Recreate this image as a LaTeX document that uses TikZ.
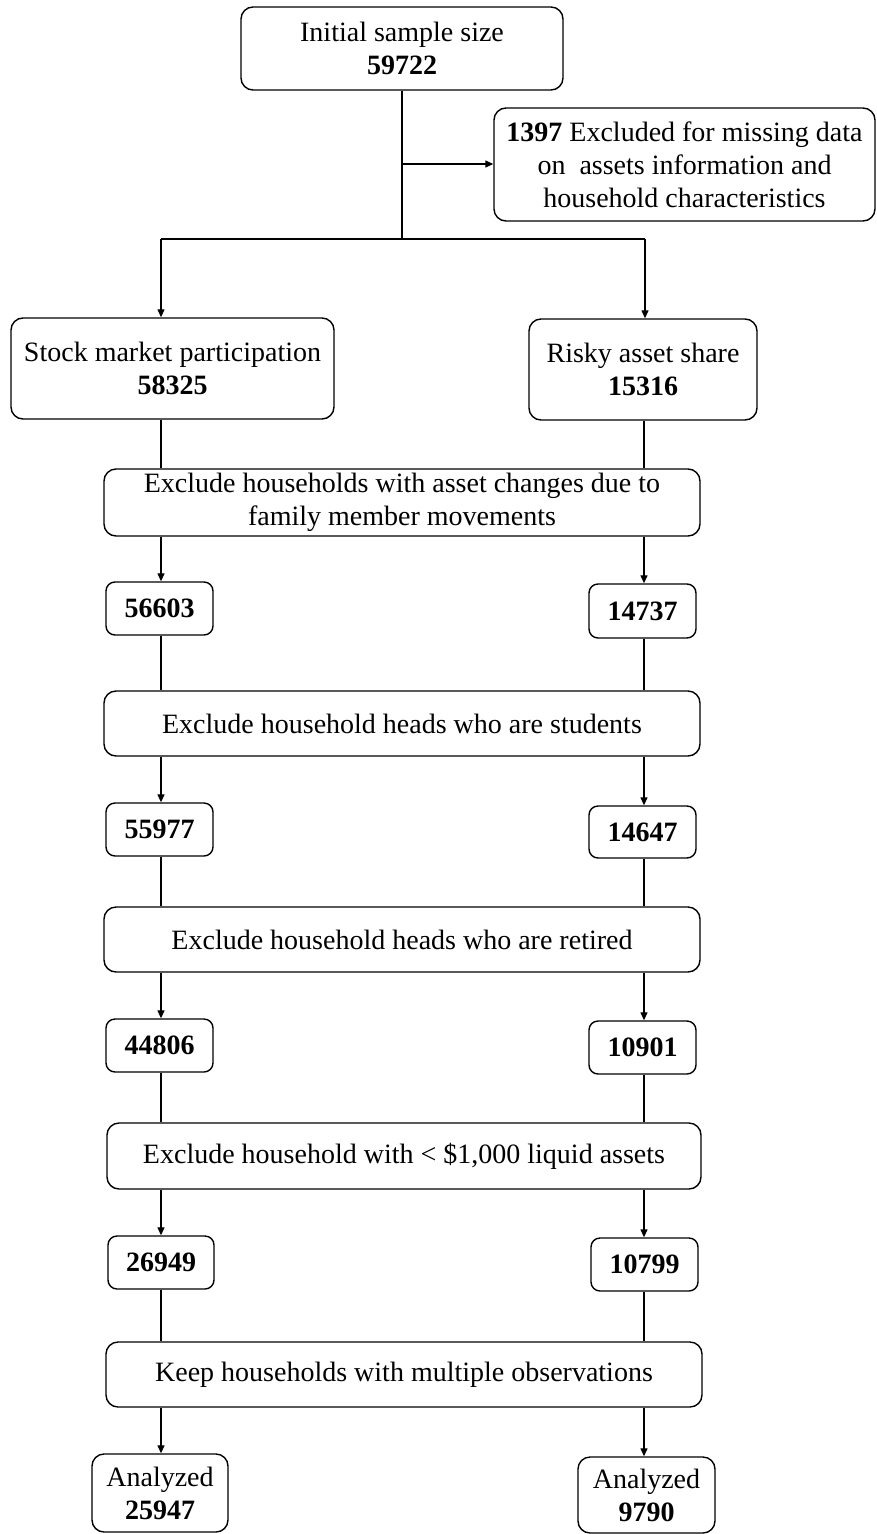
\documentclass[tikz,border=0pt]{standalone}
\usepackage{fontspec}
\setmainfont{Liberation Serif}
\usetikzlibrary{arrows.meta}
\begin{document}
\begin{tikzpicture}[x=1pt,y=-1pt,
  box/.style={draw, line width=1.4pt, rounded corners=12pt, align=center, inner sep=0pt,
    font=\fontsize{28}{33}\selectfont},
  numbox/.style={box, rounded corners=9pt, font=\fontsize{28}{33}\selectfont\bfseries},
  conn/.style={line width=1.3pt},
  arr/.style={conn, -{Triangle[length=8pt,width=7pt]}}]
\useasboundingbox (0,0) rectangle (877,1534);

% boxes
\node[box, minimum width=322pt, minimum height=83pt] (init) at (402,48.5)
  {Initial sample size\\\textbf{59722}};
\node[box, minimum width=381pt, minimum height=113pt] (excl) at (684.5,164.5)
  {\textbf{1397} Excluded for missing data\\on\ \ assets information and\\household characteristics};
\node[box, minimum width=323pt, minimum height=101pt] (stock) at (172.5,368.5)
  {Stock market participation\\\textbf{58325}};
\node[box, minimum width=228pt, minimum height=101pt] (risky) at (643,369.5)
  {Risky asset share\\\textbf{15316}};

\node[box, minimum width=596pt, minimum height=67pt] (ex1) at (402,502.5)
  {Exclude households with asset changes due to\\family member movements};
\node[numbox, minimum width=107pt, minimum height=53pt] (n1L) at (159.5,608.5) {56603};
\node[numbox, minimum width=107pt, minimum height=54pt] (n1R) at (642.5,611) {14737};

\node[box, minimum width=596pt, minimum height=65pt] (ex2) at (402,723.5)
  {Exclude household heads who are students};
\node[numbox, minimum width=107pt, minimum height=53pt] (n2L) at (159.5,829.5) {55977};
\node[numbox, minimum width=107pt, minimum height=52pt] (n2R) at (642.5,832) {14647};

\node[box, minimum width=596pt, minimum height=65pt] (ex3) at (402,939.5)
  {Exclude household heads who are retired};
\node[numbox, minimum width=107pt, minimum height=53pt] (n3L) at (159.5,1045.5) {44806};
\node[numbox, minimum width=107pt, minimum height=53pt] (n3R) at (642.5,1047.5) {10901};

\node[box, minimum width=594pt, minimum height=66pt] (ex4) at (404,1156)
  {Exclude household with < \$1,000 liquid assets};
\node[numbox, minimum width=106pt, minimum height=53pt] (n4L) at (161,1262.5) {26949};
\node[numbox, minimum width=107pt, minimum height=53pt] (n4R) at (644.5,1264.5) {10799};

\node[box, minimum width=596pt, minimum height=65pt] (ex5) at (404,1374.5)
  {Keep households with multiple observations};
\node[box, minimum width=136pt, minimum height=78pt] (a1) at (160,1493)
  {Analyzed\\\textbf{25947}};
\node[box, minimum width=137pt, minimum height=76pt] (a2) at (646.5,1495)
  {Analyzed\\\textbf{9790}};

% connectors
\coordinate (jmid) at (402,164);
\coordinate (jbot) at (402,239);
\coordinate (L) at (161,239);
\coordinate (R) at (645,239);
\coordinate (Lc) at (161,0);
\coordinate (Rc) at (644,0);

\draw[conn] (init.south) -- (jbot);
\draw[arr] (jmid) -- (excl.west |- jmid);
\draw[conn] (L) -- (R);
\draw[arr] (L) -- (stock.north -| L);
\draw[arr] (R) -- (risky.north -| R);

% left column
\draw[conn] (stock.south -| Lc) -- (ex1.north -| Lc);
\draw[arr]  (ex1.south -| Lc) -- (n1L.north -| Lc);
\draw[conn] (n1L.south -| Lc) -- (ex2.north -| Lc);
\draw[arr]  (ex2.south -| Lc) -- (n2L.north -| Lc);
\draw[conn] (n2L.south -| Lc) -- (ex3.north -| Lc);
\draw[arr]  (ex3.south -| Lc) -- (n3L.north -| Lc);
\draw[conn] (n3L.south -| Lc) -- (ex4.north -| Lc);
\draw[arr]  (ex4.south -| Lc) -- (n4L.north -| Lc);
\draw[conn] (n4L.south -| Lc) -- (ex5.north -| Lc);
\draw[arr]  (ex5.south -| Lc) -- (a1.north -| Lc);

% right column
\draw[conn] (risky.south -| Rc) -- (ex1.north -| Rc);
\draw[arr]  (ex1.south -| Rc) -- (n1R.north -| Rc);
\draw[conn] (n1R.south -| Rc) -- (ex2.north -| Rc);
\draw[arr]  (ex2.south -| Rc) -- (n2R.north -| Rc);
\draw[conn] (n2R.south -| Rc) -- (ex3.north -| Rc);
\draw[arr]  (ex3.south -| Rc) -- (n3R.north -| Rc);
\draw[conn] (n3R.south -| Rc) -- (ex4.north -| Rc);
\draw[arr]  (ex4.south -| Rc) -- (n4R.north -| Rc);
\draw[conn] (n4R.south -| Rc) -- (ex5.north -| Rc);
\draw[arr]  (ex5.south -| Rc) -- (a2.north -| Rc);
\end{tikzpicture}
\end{document}
